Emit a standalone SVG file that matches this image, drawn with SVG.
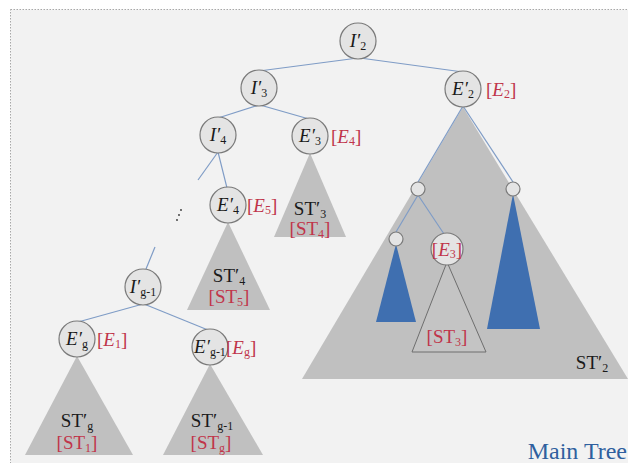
<svg xmlns="http://www.w3.org/2000/svg" width="628" height="463" viewBox="0 0 628 463">
<style>
.bg{fill:#f2f2f2;stroke:#a8a8a8;stroke-width:1;stroke-dasharray:1.5 1.5}
.tri{fill:#c0c0c0}
.blue{fill:#3f6fb0}
.node{fill:#e4e4e4;stroke:#7a7a7a;stroke-width:1.2}
.edge{stroke:#7f9cc6;stroke-width:1.2;fill:none}
.t{font-family:"Liberation Serif",serif;font-size:19px;fill:#1a1a1a;text-anchor:middle}
.i{font-style:italic}
.r{font-family:"Liberation Serif",serif;font-size:19px;fill:#c0354a}
.s{font-size:12px}
</style>
<rect class="bg" x="10.5" y="9.5" width="630" height="470"/>
<g id="connectors">
<line class="edge" x1="358" y1="58" x2="259" y2="71"/>
<line class="edge" x1="360" y1="58" x2="463" y2="72"/>
<line class="edge" x1="259" y1="105" x2="218" y2="118"/>
<line class="edge" x1="260" y1="105" x2="309" y2="119"/>
<line class="edge" x1="218" y1="152" x2="198" y2="180"/>
<line class="edge" x1="218" y1="152" x2="227" y2="188"/>
<line class="edge" x1="155" y1="247" x2="146" y2="269"/>
<line class="edge" x1="143" y1="304" x2="78" y2="322"/>
<line class="edge" x1="144" y1="304" x2="208" y2="330"/>
</g>
<g id="st2">
<polygon class="tri" points="463,107 302,379 628,379"/>
<line class="edge" x1="463" y1="106" x2="418" y2="182"/>
<line class="edge" x1="463" y1="106" x2="513" y2="182"/>
<line class="edge" x1="418" y1="195" x2="396" y2="232"/>
<line class="edge" x1="418" y1="195" x2="444" y2="234"/>
<polygon class="blue" points="396,244 376,322 416,322"/>
<polygon class="blue" points="513,194 487,329 540,329"/>
<polygon points="447,262 412,352 486,352" fill="#c4c4c4" stroke="#6e6e6e" stroke-width="1"/>
<circle class="node" cx="418" cy="189" r="7"/>
<circle class="node" cx="513" cy="189" r="7"/>
<circle class="node" cx="396" cy="239" r="7"/>
<text class="t" x="592" y="369">ST′<tspan class="s" dy="3">2</tspan></text>
<text class="r" x="447" y="343" text-anchor="middle">[ST<tspan class="s" dy="3">3</tspan><tspan dy="-3">]</tspan></text>
</g>
<g id="e3">
<circle class="node" cx="447" cy="249" r="16"/>
<text class="r" x="447" y="256" text-anchor="middle">[<tspan class="i">E</tspan><tspan class="s" dy="2">3</tspan><tspan dy="-2">]</tspan></text>
</g>
<g id="i2">
<circle class="node" cx="358" cy="41" r="18"/>
<text class="t" x="358" y="47"><tspan class="i">I′</tspan><tspan class="s" dy="3">2</tspan></text>
</g>
<g id="i3">
<circle class="node" cx="259" cy="88" r="18"/>
<text class="t" x="259" y="94"><tspan class="i">I′</tspan><tspan class="s" dy="3">3</tspan></text>
</g>
<g id="e2">
<circle class="node" cx="463" cy="89" r="18"/>
<text class="t" x="463" y="95"><tspan class="i">E′</tspan><tspan class="s" dy="3">2</tspan></text>
<text class="r" x="486" y="96">[<tspan class="i">E</tspan><tspan class="s" dy="2">2</tspan><tspan dy="-2">]</tspan></text>
</g>
<g id="e3p">
<polygon class="tri" points="310,153 274,237 346,237"/>
<circle class="node" cx="310" cy="136" r="18"/>
<text class="t" x="310" y="142"><tspan class="i">E′</tspan><tspan class="s" dy="3">3</tspan></text>
<text class="r" x="331" y="143">[<tspan class="i">E</tspan><tspan class="s" dy="2">4</tspan><tspan dy="-2">]</tspan></text>
<text class="t" x="310" y="215">ST′<tspan class="s" dy="3">3</tspan></text>
<text class="r" x="310" y="235" text-anchor="middle">[ST<tspan class="s" dy="3">4</tspan><tspan dy="-3">]</tspan></text>
</g>
<g id="i4">
<circle class="node" cx="218" cy="135" r="18"/>
<text class="t" x="218" y="141"><tspan class="i">I′</tspan><tspan class="s" dy="3">4</tspan></text>
</g>
<g id="e4">
<polygon class="tri" points="228,222 187,310 270,310"/>
<circle class="node" cx="228" cy="205" r="18"/>
<text class="t" x="228" y="211"><tspan class="i">E′</tspan><tspan class="s" dy="3">4</tspan></text>
<text class="r" x="247" y="212">[<tspan class="i">E</tspan><tspan class="s" dy="2">5</tspan><tspan dy="-2">]</tspan></text>
<text class="t" x="229" y="282">ST′<tspan class="s" dy="3">4</tspan></text>
<text class="r" x="229" y="303" text-anchor="middle">[ST<tspan class="s" dy="3">5</tspan><tspan dy="-3">]</tspan></text>
</g>
<g id="dots">
<circle cx="177" cy="220" r="0.9" fill="#333"/>
<circle cx="179" cy="215" r="0.9" fill="#333"/>
<circle cx="181" cy="210" r="0.9" fill="#333"/>
</g>
<g id="ig1">
<circle class="node" cx="143" cy="287" r="18"/>
<text class="t" x="143" y="293"><tspan class="i">I′</tspan><tspan class="s" dy="3">g-1</tspan></text>
</g>
<g id="eg">
<polygon class="tri" points="77,356 25,455 133,455"/>
<circle class="node" cx="77" cy="339" r="18"/>
<text class="t" x="77" y="345"><tspan class="i">E′</tspan><tspan class="s" dy="3">g</tspan></text>
<text class="r" x="97" y="346">[<tspan class="i">E</tspan><tspan class="s" dy="2">1</tspan><tspan dy="-2">]</tspan></text>
<text class="t" x="77" y="427">ST′<tspan class="s" dy="3">g</tspan></text>
<text class="r" x="77" y="449" text-anchor="middle">[ST<tspan class="s" dy="3">1</tspan><tspan dy="-3">]</tspan></text>
</g>
<g id="eg1">
<polygon class="tri" points="210,364 163,455 263,455"/>
<circle class="node" cx="210" cy="347" r="18"/>
<text class="t" x="210" y="353"><tspan class="i">E′</tspan><tspan class="s" dy="3">g-1</tspan></text>
<text class="r" x="226" y="354">[<tspan class="i">E</tspan><tspan class="s" dy="2">g</tspan><tspan dy="-2">]</tspan></text>
<text class="t" x="212" y="427">ST′<tspan class="s" dy="3">g-1</tspan></text>
<text class="r" x="211" y="449" text-anchor="middle">[ST<tspan class="s" dy="3">g</tspan><tspan dy="-3">]</tspan></text>
</g>
<text x="627" y="459" font-family="Liberation Serif,serif" font-size="24" fill="#2f5f9e" text-anchor="end">Main Tree</text>
</svg>
